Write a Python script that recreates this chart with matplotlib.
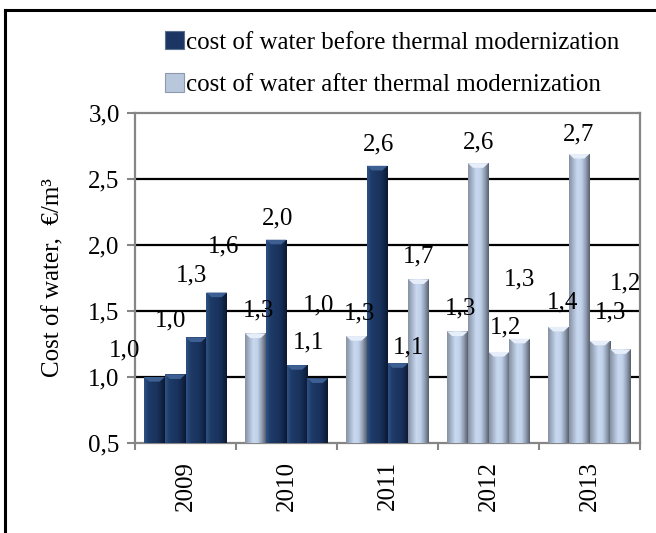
import numpy as np
import matplotlib
matplotlib.use("Agg")
import matplotlib.pyplot as plt
from matplotlib.colors import LinearSegmentedColormap
from matplotlib.patches import Patch
from matplotlib.lines import Line2D
from matplotlib.ticker import FixedLocator, FuncFormatter

# ---------------- data ----------------
years = ["2009", "2010", "2011", "2012", "2013"]
values = [
    [1.00, 1.02, 1.30, 1.64],
    [1.33, 2.04, 1.09, 0.99],
    [1.31, 2.60, 1.105, 1.74],
    [1.345, 2.62, 1.19, 1.29],
    [1.38, 2.69, 1.275, 1.21],
]
# 1 = before thermal modernization, 0 = after
before = [
    [1, 1, 1, 1],
    [0, 1, 1, 1],
    [0, 1, 1, 0],
    [0, 0, 0, 0],
    [0, 0, 0, 0],
]
series_names = ["cost of water before thermal modernization",
                "cost of water after thermal modernization"]
ylabel = "Cost of water,  €/m³"

# label offsets (pixels) from the top centre of each bar
label_offsets = [
    [(-30, 27), (-5, 54), (-4, 62), (7, 46)],
    [(3, 23), (1, 21), (12, 23), (1, 73)],
    [(3, 23), (1, 21), (11, 16), (0, 23)],
    [(3, 23), (0, 21), (7, 24), (0, 59)],
    [(4, 24), (-1, 19), (11, 28), (5, 66)],
]

# ---------------- style ----------------
plt.rcParams["font.family"] = ["Liberation Serif", "DejaVu Serif"]
FS = 18
dark_cmap = LinearSegmentedColormap.from_list(
    "dk", ["#2e5186", "#1f3c69", "#1b3662", "#1a345f", "#13284d", "#0b1830"])
light_cmap = LinearSegmentedColormap.from_list(
    "lt", ["#8791a2", "#a7b6cc", "#c9d9f0", "#c0d1ea", "#93a1b7", "#58606c"])
GRAY = "#868686"

fig = plt.figure(figsize=(6.56, 5.33), dpi=100)
W, H = 656, 533
ax = fig.add_axes([135 / W, 1 - 443 / H, (640 - 135) / W, (443 - 113) / H])

ymin, ymax = 0.5, 3.0
bw = 0.2054
grad = np.linspace(0, 1, 64).reshape(1, -1)

for i, yr in enumerate(years):
    for j, v in enumerate(values[i]):
        x = i + (j - 1.5) * bw
        b = before[i][j]
        bars = ax.bar(x, v - ymin, width=bw, bottom=ymin,
                      color="#1b3662" if b else "#b3c2d8",
                      edgecolor="none", zorder=3)
        rect = bars.patches[0]
        im = ax.imshow(grad, cmap=dark_cmap if b else light_cmap,
                       extent=[x - bw / 2, x + bw / 2, ymin, v],
                       aspect="auto", zorder=3.1, interpolation="bilinear")
        im.set_clip_path(rect)
        # top bevel highlight
        cap = 0.035
        ax.fill([x - bw / 2, x + bw / 2, x + bw / 2 - bw * 0.25, x - bw / 2 + bw * 0.25],
                [v, v, v - cap, v - cap],
                color="#3d5f92" if b else "#e6eefa", zorder=3.2, lw=0)
        dx, dy = label_offsets[i][j]
        ax.annotate(f"{v:.1f}".replace(".", ","), xy=(x, v),
                    xytext=(dx, dy), textcoords="offset pixels",
                    ha="center", va="center", fontsize=FS, zorder=5)

ax.set_xlim(-0.5, len(years) - 0.5)
ax.set_ylim(ymin, ymax)

# grid
ax.set_yticks(np.arange(0.5, 3.01, 0.5))
ax.yaxis.set_major_formatter(FuncFormatter(lambda v, p: f"{v:.1f}".replace(".", ",")))
for yv in [1.0, 1.5, 2.0, 2.5]:
    ax.axhline(yv, color="black", lw=1.6, zorder=1)

ax.set_xticks(range(len(years)))
ax.set_xticklabels(years, rotation=90, fontsize=FS)
ax.xaxis.set_minor_locator(FixedLocator(np.arange(-0.5, len(years), 1.0)))
ax.tick_params(axis="x", which="major", length=0, pad=13)
ax.tick_params(axis="x", which="minor", length=5, width=1.5, color=GRAY)
ax.tick_params(axis="y", which="major", length=6, width=1.5, color=GRAY,
               labelsize=FS, pad=5)
for s in ax.spines.values():
    s.set_color(GRAY)
    s.set_linewidth(1.6)

ax.set_ylabel(ylabel, fontsize=FS, labelpad=17)

# legend
handles = [Patch(facecolor="#1b3662", edgecolor="#5a7090", lw=0.8),
           Patch(facecolor="#b8c7dc", edgecolor="#8e9aab", lw=0.8)]
fig.legend(handles, series_names, loc="upper left",
           bbox_to_anchor=(165 / W, 1 - 31 / H), frameon=False,
           fontsize=FS, handlelength=0.75, handleheight=0.75,
           handletextpad=0.1, labelspacing=0.78, borderpad=0, borderaxespad=0)

# outer frame (top and left)
fig.add_artist(Line2D([5 / W, 1], [1 - 10 / H, 1 - 10 / H], color="black",
                      lw=2.2, transform=fig.transFigure))
fig.add_artist(Line2D([5 / W, 5 / W], [0, 1 - 10 / H], color="black",
                      lw=2.2, transform=fig.transFigure))

fig.savefig("out.png", dpi=100)
